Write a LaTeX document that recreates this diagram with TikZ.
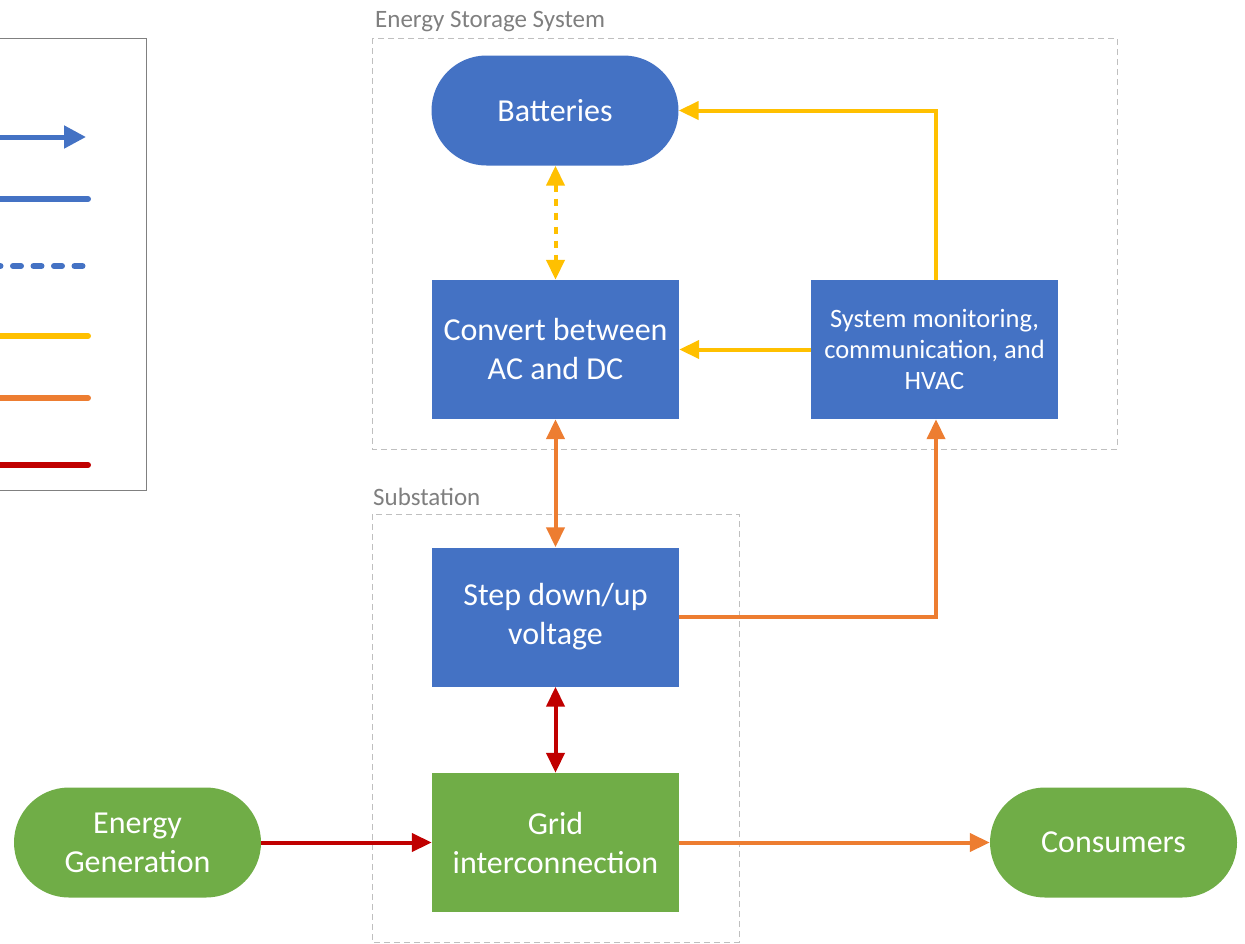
\documentclass[tikz,border=0pt]{standalone}
\usepackage{fontspec}
\setmainfont{Carlito}
\usetikzlibrary{arrows.meta}
\definecolor{cblue}{HTML}{4472C4}
\definecolor{cgreen}{HTML}{70AD47}
\definecolor{cyellow}{HTML}{FFC000}
\definecolor{corange}{HTML}{ED7D31}
\definecolor{cred}{HTML}{C00000}
\definecolor{cgrayline}{HTML}{BFBFBF}
\definecolor{cgraytext}{HTML}{7F7F7F}
\tikzset{
  blk/.style={fill=#1, draw=none, text=white, align=center,
    minimum width=247pt, minimum height=139pt, inner sep=0pt,
    font=\fontsize{32}{39}\selectfont},
  pill/.style={fill=#1, draw=none, text=white, align=center,
    minimum width=247pt, minimum height=110pt, inner sep=0pt,
    rounded corners=55pt, font=\fontsize{32}{39}\selectfont},
  grp/.style={draw=cgrayline, line width=1pt, dash pattern=on 6pt off 4pt},
  grplabel/.style={text=cgraytext, anchor=base west, inner sep=0pt,
    font=\fontsize{25}{30}\selectfont},
  conn/.style={draw=#1, line width=4pt,
    -{Triangle[length=20pt,width=18pt]}},
  bidir/.style={draw=#1, line width=4pt,
    {Triangle[length=20pt,width=18pt]}-{Triangle[length=20pt,width=18pt]}},
  legline/.style={draw=#1, line width=6pt, line cap=round},
}
\begin{document}
\begin{tikzpicture}[x=1pt, y=-1pt]
\useasboundingbox (0,0) rectangle (1245,943);
\clip (0,0) rectangle (1245,943);

% legend panel (partly outside the page)
\draw[draw=gray, line width=1pt] (-200,38) rectangle (146,490);
\draw[draw=cblue, line width=5pt, -{Triangle[length=22pt,width=22pt]}] (-100,137) coordinate (la) -- (86,137) coordinate (lb);
\draw[legline=cblue] (-100,199) -- (88,199);
\draw[draw=cblue, line width=6pt, line cap=round, dash pattern=on 8pt off 12.5pt, dash phase=4pt] (-106,266) -- (88,266);
\draw[legline=cyellow] (-100,336) -- (88,336);
\draw[legline=corange] (-100,398) -- (88,398);
\draw[legline=cred] (-100,465) -- (88,465);

% groups
\draw[grp] (372,38) rectangle (1117,449);
\node[grplabel] (esslabel) at (375,27) {Energy Storage System};
\draw[grp] (372,514) rectangle (739,942);
\node[grplabel] (sublabel) at (373,505) {Substation};

% nodes
\node[pill=cblue] (bat) at (555,110.5) {Batteries};
\node[blk=cblue] (conv) at (555.5,349.5) {Convert between\\AC and DC};
\node[blk=cblue, font=\fontsize{26.5}{31}\selectfont] (mon) at (934.5,349.5) {System monitoring,\\communication, and\\HVAC};
\node[blk=cblue] (step) at (555.5,617) {Step down/up\\voltage};
\node[blk=cgreen] (grid) at (555.5,842.5) {Grid\\interconnection};
\node[pill=cgreen] (gen) at (137.5,842.5) {Energy\\Generation};
\node[pill=cgreen] (cons) at (1113.5,842.5) {Consumers};

% connectors
\draw[bidir=cyellow, dash pattern=on 7pt off 7pt] (bat.south -| conv.north) -- (conv.north);
\draw[conn=cyellow] (mon.north -| 936,0) |- (bat.east);
\draw[conn=cyellow] (mon.west) -- (conv.east);
\draw[bidir=corange] (conv.south) -- (step.north);
\draw[conn=corange] (step.east) -| (mon.south -| 936,0);
\draw[bidir=cred] (step.south) -- (grid.north);
\draw[conn=cred] (gen.east) -- (grid.west);
\draw[conn=corange] (grid.east) -- (cons.west);
\end{tikzpicture}
\end{document}
